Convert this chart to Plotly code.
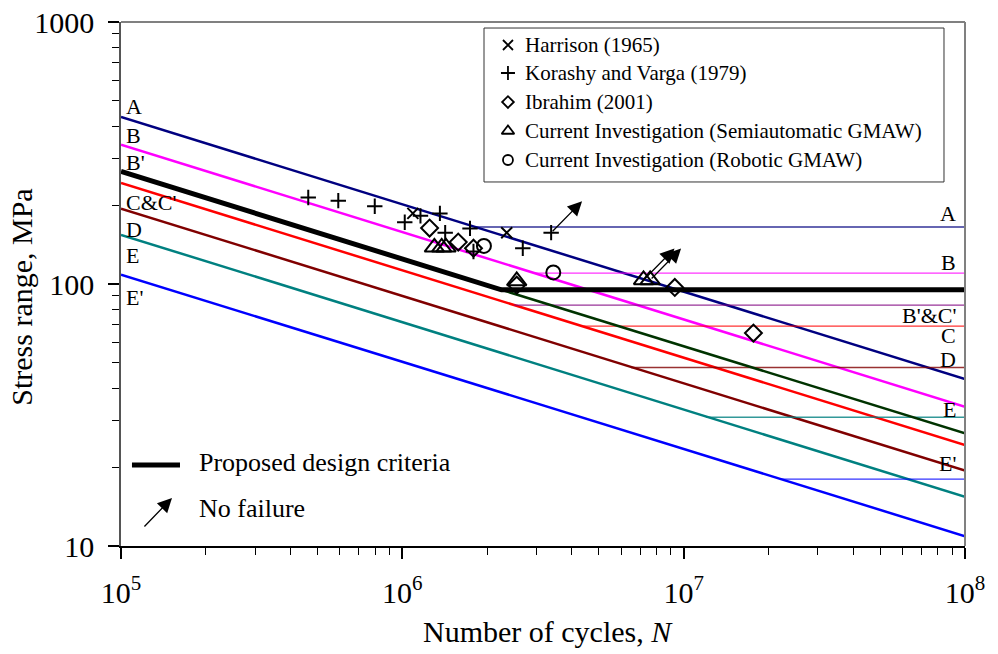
import math
import plotly.graph_objects as go

# ---------------------------------------------------------------------------
# S-N design curves (slope -1/3): stress range (MPa) at N = 1e5 and N = 1e8
# ---------------------------------------------------------------------------
cat_names = ["A", "B", "C", "D", "E", "E'"]
cat_s_start = [434, 340, 243, 194, 154, 108.6]
cat_s_end = [43.4, 34.0, 24.3, 19.4, 15.4, 10.9]
cat_colors = ["#000080", "#FF00FF", "#FF0000", "#800000", "#008080", "#0000FF"]
N_LO, N_HI = 1e5, 1e8

# Constant amplitude fatigue thresholds: level (MPa), N where the flat part starts
thr_names = ["A", "B", "B'&C'", "C", "D", "E", "E'"]
thr_levels = [165, 110, 83, 69, 48, 31, 18]
thr_n_start = [1.8e6, 2.95e6, 2.5e6, 4.4e6, 6.5e6, 1.2e7, 2.2e7]
thr_colors = ["#000080", "#FF00FF", "#800080", "#FF0000", "#800000", "#008080", "#0000FF"]

# Proposed design criteria (B' curve down to the knee, then flat)
prop_n = [1e5, 2.25e6, 1e8]
prop_s = [269, 95, 95]
# Category B' curve continued below the knee
bprime_n = [2.25e6, 1e8]
bprime_s = [95, 26.9]

# ---------------------------------------------------------------------------
# Test data
# ---------------------------------------------------------------------------
harrison_n = [1.09e6, 2.35e6]
harrison_s = [186, 157]

korashy_n = [4.63e5, 5.92e5, 7.98e5, 1.02e6, 1.16e6, 1.36e6, 1.42e6,
             1.74e6, 1.79e6, 2.68e6, 3.38e6]
korashy_s = [214, 208, 198, 172, 182, 186, 157, 163, 133, 137, 157]
korashy_runout = [False] * 10 + [True]

ibrahim_n = [1.25e6, 1.58e6, 1.79e6, 2.55e6, 9.3e6, 1.77e7]
ibrahim_s = [163.5, 144.5, 137, 99, 97, 65]

semi_n = [1.30e6, 1.38e6, 1.43e6, 2.55e6, 7.2e6, 7.6e6]
semi_s = [138, 138, 138, 102.7, 103.6, 103.6]
semi_runout = [False, False, False, False, True, True]

robotic_n = [1.95e6, 3.44e6]
robotic_s = [139.7, 110.7]

FONT = "Liberation Serif, Times New Roman, serif"
BLACK = "black"

fig = go.Figure()

# sloped design curves
for name, s0, s1, col in zip(cat_names, cat_s_start, cat_s_end, cat_colors):
    fig.add_trace(go.Scatter(x=[N_LO, N_HI], y=[s0, s1], mode="lines",
                             line=dict(color=col, width=2.5),
                             showlegend=False, hoverinfo="skip"))

# thresholds
for name, lvl, n0, col in zip(thr_names, thr_levels, thr_n_start, thr_colors):
    fig.add_trace(go.Scatter(x=[n0, N_HI], y=[lvl, lvl], mode="lines",
                             line=dict(color=col, width=1.3), opacity=0.8,
                             showlegend=False, hoverinfo="skip"))

fig.add_trace(go.Scatter(x=bprime_n, y=bprime_s, mode="lines",
                         line=dict(color="#003300", width=2.5),
                         showlegend=False, hoverinfo="skip"))
fig.add_trace(go.Scatter(x=prop_n, y=prop_s, mode="lines",
                         line=dict(color=BLACK, width=5),
                         showlegend=False, hoverinfo="skip"))

series = [
    ("Harrison (1965)", harrison_n, harrison_s, "x-thin-open", 11, 10),
    ("Korashy and Varga (1979)", korashy_n, korashy_s, "cross-thin-open", 11, 10),
    ("Ibrahim (2001)", ibrahim_n, ibrahim_s, "diamond-open", 13, 9),
    ("Current Investigation (Semiautomatic GMAW)", semi_n, semi_s, "triangle-up-open", 17, 11),
    ("Current Investigation (Robotic GMAW)", robotic_n, robotic_s, "circle-open", 14, 10),
]
for name, xs, ys, sym, sz, _ in series:
    fig.add_trace(go.Scatter(x=xs, y=ys, mode="markers", name=name,
                             showlegend=False,
                             marker=dict(symbol=sym, size=sz, color=BLACK,
                                         line=dict(color=BLACK, width=2))))

# key box (top right): symbols on an overlay axis spanning the plot area
KEY_X_SYM, KEY_X_TXT = 0.4585, 0.4763
key_rows = [0.9561, 0.9027, 0.8473, 0.7920, 0.7366]
annotations = []
for (name, _, _, sym, _, ksz), ky in zip(series, key_rows):
    fig.add_trace(go.Scatter(x=[KEY_X_SYM], y=[ky], mode="markers",
                             xaxis="x2", yaxis="y2", showlegend=False,
                             hoverinfo="skip",
                             marker=dict(symbol=sym, size=ksz, color=BLACK,
                                         line=dict(color=BLACK, width=1.8))))
    annotations.append(dict(x=KEY_X_TXT, y=ky, xref="paper", yref="paper",
                            text=name, showarrow=False, xanchor="left",
                            yanchor="middle",
                            font=dict(family=FONT, size=21, color=BLACK)))

# run-out arrows (no failure)
DLX, DLY = 0.11, 0.12
for xs, ys, flags in [(korashy_n, korashy_s, korashy_runout),
                      (semi_n, semi_s, semi_runout)]:
    for n, s, f in zip(xs, ys, flags):
        if f:
            lx, ly = math.log10(n), math.log10(s)
            annotations.append(dict(x=lx + DLX, y=ly + DLY, ax=lx, ay=ly,
                                    xref="x", yref="y", axref="x", ayref="y",
                                    showarrow=True, arrowhead=2, arrowsize=2.2,
                                    arrowwidth=1.3, arrowcolor=BLACK, text=""))

# curve labels on the left edge
left_labels = [("A", 475), ("B", 368), ("B'", 290), ("C&C'", 204),
               ("D", 162), ("E", 128), ("E'", 88.5)]
for txt, yv in left_labels:
    annotations.append(dict(x=0.004, y=math.log10(yv), xref="paper", yref="y",
                            text=txt, showarrow=False, xanchor="left",
                            yanchor="middle",
                            font=dict(family=FONT, size=22, color=BLACK)))

# threshold labels on the right edge
right_labels = [("A", 186.6), ("B", 121.3), ("B'&C'", 75.5), ("C", 63.4),
                ("D", 51.3), ("E", 33.3), ("E'", 20.7)]
for txt, yv in right_labels:
    annotations.append(dict(x=0.992, y=math.log10(yv), xref="paper", yref="y",
                            text=txt, showarrow=False, xanchor="right",
                            yanchor="middle",
                            font=dict(family=FONT, size=22, color=BLACK)))

# key for the design line and the arrows
annotations.append(dict(x=0.090, y=0.160, xref="paper", yref="paper",
                        text="Proposed design criteria", showarrow=False,
                        xanchor="left", yanchor="middle",
                        font=dict(family=FONT, size=26, color=BLACK)))
annotations.append(dict(x=0.090, y=0.072, xref="paper", yref="paper",
                        text="No failure", showarrow=False,
                        xanchor="left", yanchor="middle",
                        font=dict(family=FONT, size=26, color=BLACK)))
annotations.append(dict(x=0.0604, y=0.0917, xref="paper", yref="paper",
                        ax=-29, ay=30, showarrow=True, arrowhead=2, arrowsize=2.2,
                        arrowwidth=1.3, arrowcolor=BLACK, text=""))

# axis titles
annotations.append(dict(x=-0.1173, y=0.4756, xref="paper", yref="paper",
                        text="Stress range, MPa", textangle=-90, showarrow=False,
                        xanchor="center", yanchor="middle",
                        font=dict(family=FONT, size=30, color=BLACK)))
annotations.append(dict(x=0.506, y=-0.164, xref="paper", yref="paper",
                        text="Number of cycles, <i>N</i>", showarrow=False,
                        xanchor="center", yanchor="middle",
                        font=dict(family=FONT, size=30, color=BLACK)))

shapes = [
    dict(type="rect", xref="paper", yref="paper", x0=0.4301, x1=0.9751,
         y0=0.6947, y1=0.9885, fillcolor="white", layer="below",
         line=dict(color="#333333", width=1)),
    dict(type="line", xref="paper", yref="paper", x0=0.013, x1=0.0699,
         y0=0.1547, y1=0.1547, line=dict(color=BLACK, width=5)),
    dict(type="line", xref="paper", yref="paper", x0=0, x1=1, y0=1, y1=1,
         line=dict(color="#808080", width=2)),
    dict(type="line", xref="paper", yref="paper", x0=1, x1=1, y0=0, y1=1,
         line=dict(color="#808080", width=2)),
]

x_major = [1e5, 1e6, 1e7, 1e8]
x_major_text = ["10<sup>5</sup>", "10<sup>6</sup>", "10<sup>7</sup>", "10<sup>8</sup>"]
x_minor = [m * 10 ** e for e in (5, 6, 7) for m in range(2, 10)]
y_major = [10, 100, 1000]
y_major_text = ["10", "100", "1000"]
y_minor = [m * 10 ** e for e in (1, 2) for m in range(2, 10)]

fig.update_layout(
    width=998, height=654,
    margin=dict(l=121, r=33, t=22, b=108, autoexpand=False),
    paper_bgcolor="white", plot_bgcolor="white",
    font=dict(family=FONT, color=BLACK),
    showlegend=False,
    xaxis=dict(type="log", range=[5, 8], showgrid=False, zeroline=False,
               automargin=False,
               showline=True, linecolor=BLACK, linewidth=2,
               tickvals=x_major, ticktext=x_major_text,
               ticks="outside", ticklen=11, tickwidth=1.5, tickcolor=BLACK,
               ticklabelstandoff=8,
               tickfont=dict(family=FONT, size=30, color=BLACK),
               minor=dict(tickvals=x_minor, ticks="outside", ticklen=7,
                          tickwidth=1.2, tickcolor=BLACK, showgrid=False)),
    yaxis=dict(type="log", range=[1, 3], showgrid=False, zeroline=False,
               automargin=False,
               showline=True, linecolor="#555555", linewidth=1.5,
               tickvals=y_major, ticktext=y_major_text,
               ticks="outside", ticklen=11, tickwidth=1.5, tickcolor=BLACK,
               ticklabelstandoff=8,
               tickfont=dict(family=FONT, size=30, color=BLACK),
               minor=dict(tickvals=y_minor, ticks="outside", ticklen=7,
                          tickwidth=1.2, tickcolor=BLACK, showgrid=False)),
    xaxis2=dict(overlaying="x", range=[0, 1], visible=False, automargin=False),
    yaxis2=dict(overlaying="y", range=[0, 1], visible=False, automargin=False),
    annotations=annotations,
    shapes=shapes,
)

fig.write_html("out.html")
